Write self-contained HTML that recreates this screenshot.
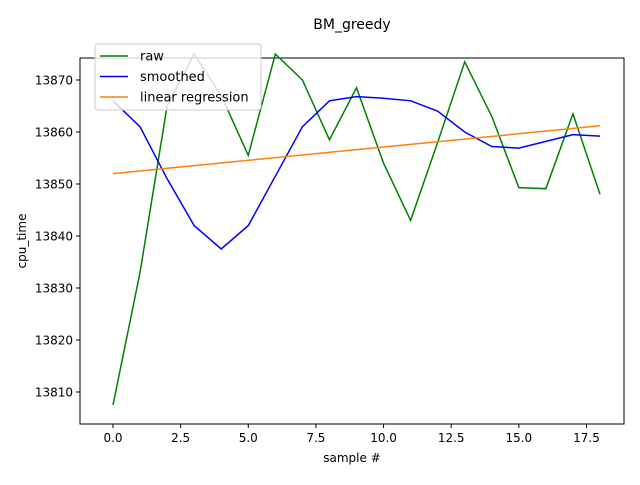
<!DOCTYPE html>
<html><head><meta charset="utf-8"><style>body{margin:0;background:#fff}svg{font-family:"DejaVu Sans","Liberation Sans",sans-serif}</style></head>
<body>
<svg id="c" width="640" height="480"></svg>
<script>
const xs=[0,1,2,3,4,5,6,7,8,9,10,11,12,13,14,15,16,17,18];
const raw=[13807.5,13833,13865,13875,13867,13855.5,13875,13870,13858.5,13868.5,13854,13843,13858,13873.5,13863,13849.3,13849.1,13863.5,13848];
const smoothed=[13866,13861,13851,13842,13837.5,13842,13851.5,13861,13866,13866.8,13866.5,13866,13864,13860,13857.2,13856.9,13858.2,13859.5,13859.2];
const regStart=13852, regEnd=13861.2;
const xTicks=[0,2.5,5,7.5,10,12.5,15,17.5];
const xTickLabels=["0.0","2.5","5.0","7.5","10.0","12.5","15.0","17.5"];
const yTicks=[13810,13820,13830,13840,13850,13860,13870];
const L=80,R=624,T=58,B=424;
const X=v=>113+v*(600-113)/18;
const Y=v=>392-(v-13810)*5.2;
const s=document.getElementById('c');const NS="http://www.w3.org/2000/svg";
function el(t,a,p){const e=document.createElementNS(NS,t);for(const k in a)e.setAttribute(k,a[k]);(p||s).appendChild(e);return e;}
let e;
e=el('rect',{x:L,y:T,width:R-L,height:B-T,fill:'none',stroke:'#000','stroke-width':1});


xTicks.forEach((v,i)=>{el('line',{x1:X(v),x2:X(v),y1:B,y2:B+4,stroke:'#000'});
 e=el('text',{x:X(v),y:B+18,'text-anchor':'middle','font-size':12});e.textContent=xTickLabels[i];
 
 });
yTicks.forEach(v=>{el('line',{x1:L-4,x2:L,y1:Y(v),y2:Y(v),stroke:'#000'});
 e=el('text',{x:L-7,y:Y(v)+4.5,'text-anchor':'end','font-size':12});e.textContent=v;
 
 });
function line(arr,col,name){e=el('polyline',{points:arr.map((v,i)=>X(xs[i])+','+Y(v)).join(' '),fill:'none',stroke:col,'stroke-width':1.5});
 
 }
line(raw,'#008000','raw-line');
line(smoothed,'#0000ff','smoothed-line');
e=el('line',{x1:X(xs[0]),y1:Y(regStart),x2:X(xs[xs.length-1]),y2:Y(regEnd),stroke:'#ff7f0e','stroke-width':1.5});


e=el('text',{x:352,y:29,'text-anchor':'middle','font-size':14});e.textContent='BM_greedy';


e=el('text',{x:352,y:462,'text-anchor':'middle','font-size':12});e.textContent='sample #';


e=el('text',{x:26,y:241,'text-anchor':'middle','font-size':12,transform:'rotate(-90 26 241)'});e.textContent='cpu_time';


const g=el('g',{});


el('rect',{x:95,y:44,width:166,height:66,rx:3,fill:'#fff','fill-opacity':0.8,stroke:'#ccc'},g);
[['raw','#008000'],['smoothed','#0000ff'],['linear regression','#ff7f0e']].forEach((d,i)=>{
 const y=56+i*20.5;
 el('line',{x1:100,x2:128,y1:y,y2:y,stroke:d[1],'stroke-width':1.5},g);
 e=el('text',{x:140,y:y+4.5,'font-size':13},g);e.textContent=d[0];
 
 
});
</script>
</body></html>
